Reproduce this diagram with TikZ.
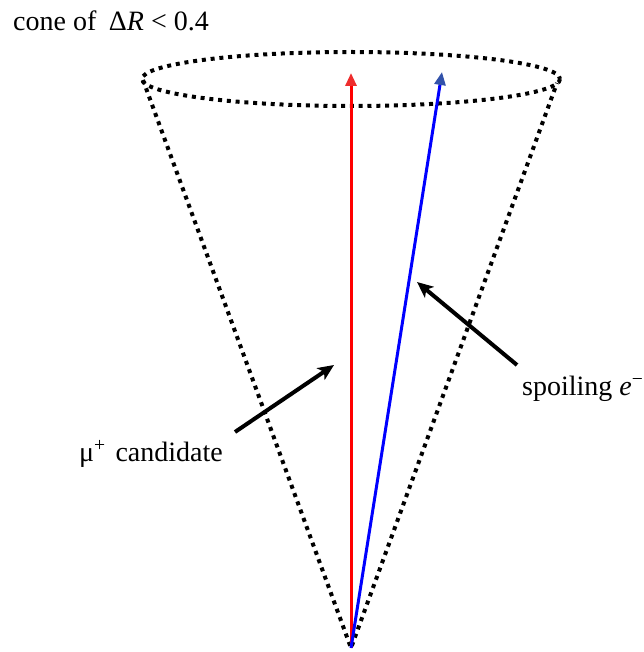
\documentclass[tikz,border=0pt]{standalone}
\usepackage{fontspec}
\setmainfont{Liberation Serif}
\usetikzlibrary{arrows.meta}
\definecolor{bluehead}{RGB}{50,82,170}
\definecolor{redhead}{RGB}{238,45,45}
\begin{document}
\begin{tikzpicture}[x=1pt,y=-1pt,
  conedot/.style={line width=4pt,dash pattern=on 4pt off 4.8pt},
  track/.style={line width=3pt},
  pointer/.style={line width=4pt,-{Stealth[length=16pt,width=14pt,inset=4pt]}},
  lab/.style={inner sep=0pt,anchor=base west,font=\fontsize{28}{32}\selectfont}]
\useasboundingbox (0,0) rectangle (643,652);
% geometry
\coordinate (apex) at (351,648);
\coordinate (ctr) at (351,79);
\coordinate (lefttop) at (143,80);
\coordinate (righttop) at (557,83);
\coordinate (redtip) at (351,73);
\coordinate (bluetip) at (442,72);
\coordinate (mustart) at (235,432);
\coordinate (mutip) at (334,365);
\coordinate (estart) at (517,365);
\coordinate (etip) at (417,282);
% cone
\draw[conedot] (ctr) ellipse[x radius=209,y radius=27];
\draw[conedot] (lefttop) -- (apex) -- (righttop);
% tracks
\draw[track,red,-{Triangle[length=13pt,width=11pt,color=redhead]}] (apex) -- (redtip);
\draw[track,blue,-{Triangle[length=13pt,width=11pt,color=bluehead]}] (apex) -- (bluetip);
% pointers
\draw[pointer] (mustart) -- (mutip);
\draw[pointer] (estart) -- (etip);
% labels
\node[lab] (conelab) at (13,31) {cone of\hspace{0.2em} Δ\textit{R} < 0.4};
\node[lab] (mulab) at (79,461) {μ\textsuperscript{+}\hspace{0.1em} candidate};
\node[lab] (elab) at (522,395) {spoiling \textit{e}\textsuperscript{−}};
\end{tikzpicture}
\end{document}
